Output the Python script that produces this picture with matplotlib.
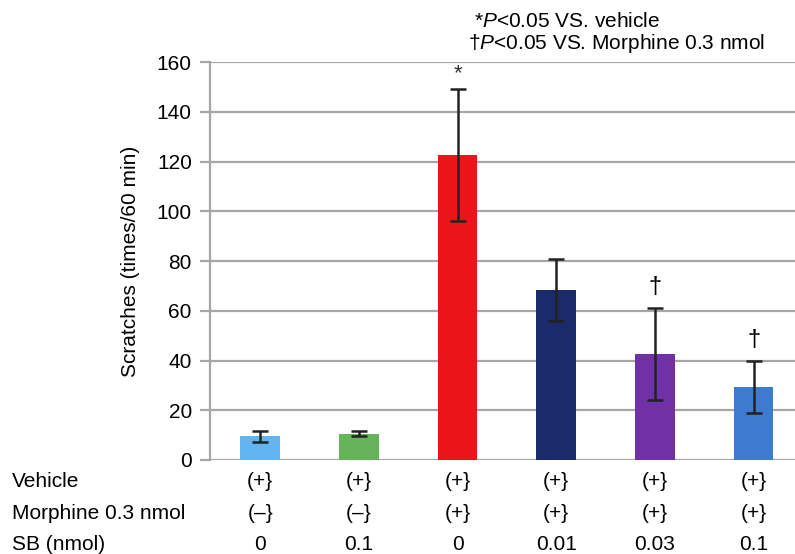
import numpy as np
import matplotlib
matplotlib.use("Agg")
import matplotlib.pyplot as plt
import matplotlib.transforms as mtransforms

plt.rcParams['font.family'] = ['Liberation Sans', 'DejaVu Sans']
plt.rcParams['mathtext.fontset'] = 'custom'
plt.rcParams['mathtext.it'] = 'Liberation Sans:italic'
plt.rcParams['mathtext.rm'] = 'Liberation Sans'

# data
means = [9.5, 10.5, 122.5, 68.5, 42.5, 29.5]
errs = [2.3, 1.0, 26.5, 12.5, 18.5, 10.5]
colors = ["#62b4ee", "#66b45a", "#ea1519", "#1b2a6a", "#7131a6", "#3e7acd"]
marks = ["", "", "*", "", "\u2020", "\u2020"]
row_names = ["Vehicle", "Morphine 0.3 nmol", "SB (nmol)"]
vehicle = ["(+}"] * 6
morphine = ["(\u2013}", "(\u2013}", "(+}", "(+}", "(+}", "(+}"]
sb_dose = ["0", "0.1", "0", "0.01", "0.03", "0.1"]

fs = 15

fig = plt.figure(figsize=(7.95, 5.54), dpi=100)
ax = fig.add_axes([0.264, 0.1697, 0.736, 0.7183])

x = np.arange(len(means))
ax.bar(x, means, width=0.4, color=colors, zorder=3)
ax.errorbar(x, means, yerr=errs, fmt="none", ecolor="#222222",
            elinewidth=1.8, capsize=6, capthick=1.8, zorder=4)

for xi, m, e, s in zip(x, means, errs, marks):
    if s == "*":
        ax.text(xi, m + e + 2, s, ha="center", va="bottom", fontsize=16, color="#333333")
    elif s:
        ax.text(xi, m + e + 4, s, ha="center", va="bottom", fontsize=17, color="black")

ax.set_xlim(-0.51, 5.42)
ax.set_ylim(0, 160)
ax.set_yticks(np.arange(0, 161, 20))
ax.yaxis.grid(True, color="#a6a6a6", linewidth=1.6, zorder=0)
ax.set_axisbelow(True)
ax.set_xticks([])
for side in ["top", "right", "bottom"]:
    ax.spines[side].set_visible(False)
ax.spines["left"].set_color("#a6a6a6")
ax.spines["left"].set_linewidth(1.6)
ax.tick_params(axis="y", length=7, width=1.6, color="#a6a6a6", labelsize=fs, pad=6)
ax.set_ylabel("Scratches (times/60 min)", fontsize=15)
ax.yaxis.set_label_coords(-0.12, 0.5)

# table of treatments under the bars
trans = mtransforms.blended_transform_factory(ax.transData, fig.transFigure)
row_y = [0.131, 0.073, 0.018]
for name, ry, vals in zip(row_names, row_y, [vehicle, morphine, sb_dose]):
    fig.text(0.015, ry, name, ha="left", va="center", fontsize=fs)
    for xi, v in zip(x, vals):
        ax.text(xi, ry, v, transform=trans, ha="center", va="center", fontsize=fs,
                clip_on=False)

fig.text(0.596, 0.962, r"*$\mathit{P}$<0.05 VS. vehicle", ha="left", va="center", fontsize=fs)
fig.text(0.589, 0.921, "\u2020" + r"$\mathit{P}$<0.05 VS. Morphine 0.3 nmol",
         ha="left", va="center", fontsize=fs)

fig.savefig("out.png", dpi=100)
